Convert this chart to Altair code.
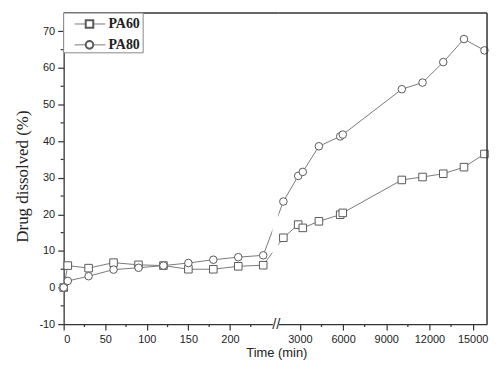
import altair as alt
import pandas as pd

# ---------------- data ----------------
series = ["PA60", "PA80"]
shapes = ["square", "circle"]

t_early = [0, 5, 30, 60, 90, 120, 150, 180, 210, 240]
pa60_early = [0.0, 6.0, 5.3, 6.8, 6.2, 6.0, 5.0, 5.0, 5.8, 6.1]
pa80_early = [0.0, 1.8, 3.1, 4.9, 5.4, 6.0, 6.7, 7.6, 8.3, 8.8]

t_late = [1850, 2880, 3200, 4320, 5800, 5980, 10080, 11520, 12960, 14400, 15820]
pa60_late = [13.6, 17.2, 16.3, 18.1, 19.9, 20.4, 29.4, 30.2, 31.1, 32.9, 36.5]
pa80_late = [23.5, 30.5, 31.6, 38.6, 41.3, 41.8, 54.2, 56.0, 61.6, 67.9, 64.8]

y_major = [-10, 0, 10, 20, 30, 40, 50, 60, 70]
y_minor = [-5, 5, 15, 25, 35, 45, 55, 65]
x_left_major = [0, 50, 100, 150, 200]
x_left_minor = [25, 75, 125, 175, 225]
x_right_major = [3000, 6000, 9000, 12000, 15000]
x_right_minor = [4500, 7500, 10500, 13500]

# ---------------- layout ----------------
LW, RW, H, GAP = 210, 210, 313, 6
LDOM = [0, 251]
RDOM = [1500, 16000]
YDOM = [-10, 75]
kL = LW / (LDOM[1] - LDOM[0])
kR = RW / (RDOM[1] - RDOM[0])

LINE = "#7a7a7a"
MARK = "#5a5a5a"
AX = "#333333"

early = {"PA60": pa60_early, "PA80": pa80_early}
late = {"PA60": pa60_late, "PA80": pa80_late}

rows_l, rows_r, lines_l, lines_r = [], [], [], []
for s in series:
    for t, v in zip(t_early, early[s]):
        rows_l.append({"t": t, "v": v, "s": s})
        lines_l.append({"t": t, "v": v, "s": s})
    for t, v in zip(t_late, late[s]):
        rows_r.append({"t": t, "v": v, "s": s})
        lines_r.append({"t": t, "v": v, "s": s})
    # connecting segments across the axis break (same points seen from the other panel)
    t0, v0 = t_late[0], late[s][0]
    px = LW + GAP + (t0 - RDOM[0]) * kR
    lines_l.append({"t": LDOM[0] + px / kL, "v": v0, "s": s})
    t1, v1 = t_early[-1], early[s][-1]
    px = -(GAP + LW - (t1 - LDOM[0]) * kL)
    lines_r.insert(0, {"t": RDOM[0] + px / kR, "v": v1, "s": s})

df_l = pd.DataFrame(rows_l)
df_r = pd.DataFrame(rows_r)
dl_l = pd.DataFrame(lines_l)
dl_r = pd.DataFrame(lines_r)

shape_scale = alt.Scale(domain=series, range=shapes)
y_scale = alt.Scale(domain=YDOM, nice=False, zero=False)
xs_l = alt.Scale(domain=LDOM, nice=False, zero=False)
xs_r = alt.Scale(domain=RDOM, nice=False, zero=False)

y_axis = alt.Axis(
    values=y_major,
    tickSize=6,
    labelOverlap=False,
    labelExpr="datum.value < 0 ? '-' + abs(datum.value) : '' + datum.value",
    title="Drug dissolved (%)",
    titleFont="Liberation Serif",
    titleFontSize=17,
    titleFontWeight="normal",
    titlePadding=7,
    titleY=164,
)
lx_axis = alt.Axis(values=x_left_major, tickSize=6, labelOverlap=False, title=None)
rx_axis = alt.Axis(
    values=x_right_major,
    tickSize=6,
    labelOverlap=False,
    format="d",
    title="Time (min)",
    titleFont="Liberation Sans",
    titleFontSize=13,
    titleFontWeight="normal",
    titleX=-2,
    titlePadding=3,
)

# every layer of a panel carries the same axis definition, so nothing conflicts when merged
LEFT = dict(xs=xs_l, xa=lx_axis, ya=y_axis)
RIGHT = dict(xs=xs_r, xa=rx_axis, ya=None)


def X(p, field="t"):
    return alt.X(f"{field}:Q", scale=p["xs"], axis=p["xa"])


def Y(p, field="v"):
    return alt.Y(f"{field}:Q", scale=y_scale, axis=p["ya"])


def data_layers(p, dpts, dlines):
    ln = alt.Chart(dlines).mark_line(color=LINE, strokeWidth=1, clip=True).encode(
        x=X(p), y=Y(p), detail="s:N")
    pts = alt.Chart(dpts).mark_point(filled=False, stroke=MARK, fill="white", fillOpacity=1,
                                     strokeWidth=1, size=58, opacity=1).encode(
        x=X(p), y=Y(p), shape=alt.Shape("s:N", scale=shape_scale, legend=None))
    return ln, pts


def minor_x(p, vals):
    return alt.Chart(pd.DataFrame({"m": vals})).mark_rule(color=AX, strokeWidth=1.2).encode(
        x=X(p, "m"), y=alt.value(H), y2=alt.value(H + 3))


l_line, l_pts = data_layers(LEFT, df_l, dl_l)
r_line, r_pts = data_layers(RIGHT, df_r, dl_r)

y_minor_ticks = alt.Chart(pd.DataFrame({"m": y_minor})).mark_rule(color=AX, strokeWidth=1.2).encode(
    y=Y(LEFT, "m"), x=alt.value(0), x2=alt.value(-3))

one = pd.DataFrame({"a": [0]})
top_l = alt.Chart(one).mark_rule(color=AX, strokeWidth=1.5).encode(
    x=alt.value(0), x2=alt.value(LW + GAP), y=alt.value(0))
top_r = alt.Chart(one).mark_rule(color=AX, strokeWidth=1.5).encode(
    x=alt.value(0), x2=alt.value(RW), y=alt.value(0))
right_r = alt.Chart(one).mark_rule(color=AX, strokeWidth=1.5).encode(
    x=alt.value(RW), y=alt.value(0), y2=alt.value(H))
brk = alt.Chart(one).mark_text(
    text="//", font="Liberation Sans", fontSize=15, color=AX, align="center", baseline="middle"
).encode(x=alt.value(-2), y=alt.value(H))

# legend (built from the series arrays)
leg_layers = [
    alt.Chart(one).mark_rect(fill="white", stroke="#888888", strokeWidth=1).encode(
        x=alt.value(0), x2=alt.value(80), y=alt.value(0), y2=alt.value(40))
]
for i, (s, shp) in enumerate(zip(series, shapes)):
    yy = 11 + 21 * i
    d = pd.DataFrame({"s": [s]})
    leg_layers.append(alt.Chart(d).mark_rule(color=LINE, strokeWidth=1).encode(
        x=alt.value(11), x2=alt.value(42), y=alt.value(yy)))
    leg_layers.append(alt.Chart(d).mark_point(shape=shp, filled=False, stroke=MARK, fill="white",
                                              fillOpacity=1, size=58, opacity=1).encode(
        x=alt.value(26), y=alt.value(yy)))
    leg_layers.append(alt.Chart(d).mark_text(font="Liberation Serif", fontWeight="bold", fontSize=14,
                                             color="#222222", align="left", baseline="middle").encode(
        x=alt.value(45), y=alt.value(yy), text="s:N"))

left = alt.layer(l_line, l_pts, minor_x(LEFT, x_left_minor), y_minor_ticks, top_l,
                 *leg_layers).properties(width=LW, height=H)
right = alt.layer(r_line, r_pts, minor_x(RIGHT, x_right_minor), top_r, right_r,
                  brk).properties(width=RW, height=H)

chart = alt.hconcat(left, right, spacing=GAP, bounds="flush").properties(
    padding={"top": 3, "left": 6, "right": 0, "bottom": 0},
    background="white",
).configure_view(stroke=None).configure_axis(
    grid=False,
    labelOverlap=False,
    domainColor=AX,
    domainWidth=1.3,
    tickColor=AX,
    tickWidth=1.2,
    labelFont="Liberation Sans",
    labelFontSize=11,
    labelColor="#222222",
    labelPadding=3,
    titleColor="#222222",
)

chart.save("out.html", embed_options={"renderer": "svg", "actions": False})
